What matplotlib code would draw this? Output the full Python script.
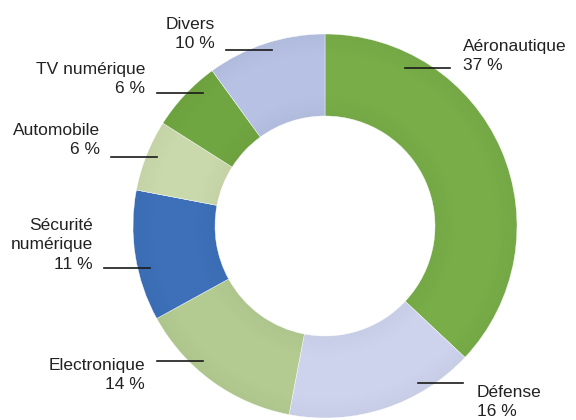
import matplotlib
matplotlib.use("Agg")
import matplotlib.pyplot as plt
from matplotlib.patches import Wedge

# parts of turnover by sector, clockwise from the top
sectors = ["Aéronautique", "Défense", "Electronique", "Sécurité\nnumérique",
           "Automobile", "TV numérique", "Divers"]
shares = [37, 16, 14, 11, 6, 6, 10]
colors = ["#78ad48", "#cdd3ec", "#b3cb91", "#3d70b9", "#cad9ab", "#70a641", "#b6c1e3"]

# label placement in pixels (x, y from top), alignment and leader line
label_pos = [(463, 56, "left"), (477, 402, "left"), (145, 375, "right"),
             (93, 245, "right"), (100, 140, "right"), (145, 79, "right"),
             (215, 34, "right")]
leaders = [(405, 450, 68), (418, 463, 383), (157, 203, 361),
           (104, 150, 268), (111, 157, 157), (157, 203, 93), (226, 272, 50)]

W, H = 576, 420
cx, cy = 325, H - 226
r_out, ring = 192, 82

plt.rcParams['font.family'] = ['Liberation Sans', 'DejaVu Sans']
fig = plt.figure(figsize=(5.76, 4.2), dpi=100)
ax = fig.add_axes([0, 0, 1, 1])

ax.pie(shares, colors=colors, startangle=90, counterclock=False,
       radius=r_out, center=(cx, cy), frame=True,
       wedgeprops=dict(width=ring, edgecolor='white', linewidth=0.3))
ax.set_xlim(0, W)
ax.set_ylim(0, H)
ax.set_aspect('equal')
ax.axis('off')

# soft shading towards the inner and outer edges of the ring
r_in = r_out - ring
for i in range(10):
    a = 0.025 * (10 - i) / 10
    ax.add_patch(Wedge((cx, cy), r_out - i * 2, 0, 360, width=2,
                       facecolor='black', alpha=a, linewidth=0))
    ax.add_patch(Wedge((cx, cy), r_in + 2 + i * 2, 0, 360, width=2,
                       facecolor='black', alpha=a, linewidth=0))

for name, pct, (x, y, ha) in zip(sectors, shares, label_pos):
    ax.text(x, H - y, f"{name}\n{pct} %", ha=ha, va='center', fontsize=12.5,
            color='#222222', linespacing=1.35)

for x0, x1, y in leaders:
    ax.plot([x0, x1], [H - y, H - y], color='#1a1a1a', lw=1.2)

fig.savefig("out.png", dpi=100)
